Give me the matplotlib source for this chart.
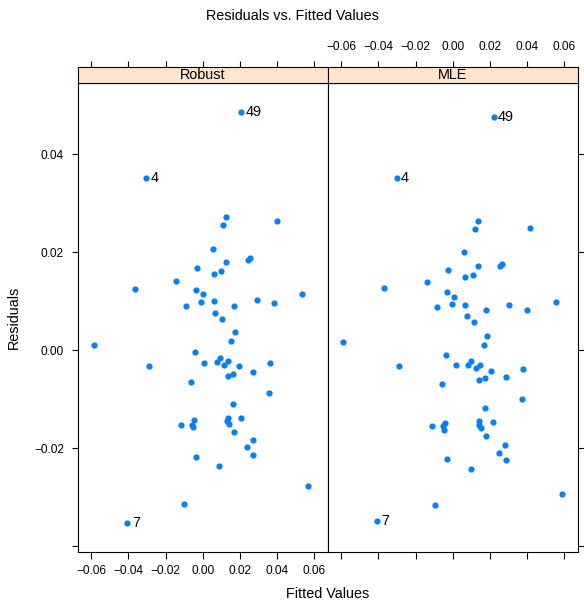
import matplotlib
matplotlib.use("Agg")
import matplotlib.pyplot as plt
import numpy as np

plt.rcParams['font.family'] = ['Liberation Sans', 'DejaVu Sans']

panels = ["Robust", "MLE"]

robust_x = [0.0207, -0.0304, 0.0125, 0.0111, 0.0398, 0.0054, 0.0127, 0.0246, 0.0253, -0.0032,
            0.0061, 0.0100, -0.0141, -0.0364, -0.0036, 0.0000, 0.0536, -0.0011, 0.0061, 0.0291,
            0.0386, -0.0091, 0.0166, 0.0068, 0.0104, 0.0175, 0.0155, -0.0586, -0.0039, -0.0291,
            0.0009, 0.0075, 0.0091, 0.0136, 0.0116, 0.0193, 0.0363, 0.0134, 0.0164, 0.0273,
            -0.0061, 0.0359, 0.0161, 0.0134, 0.0204, 0.0132, 0.0143, -0.0116, -0.0045, -0.0059,
            -0.0050, 0.0166, 0.0270, 0.0239, -0.0036, 0.0273, 0.0089, 0.0568, -0.0102, -0.0405]
robust_y = [0.0486, 0.0352, 0.0272, 0.0255, 0.0263, 0.0207, 0.0181, 0.0184, 0.0188, 0.0168,
            0.0156, 0.0161, 0.0142, 0.0125, 0.0124, 0.0114, 0.0114, 0.0099, 0.0100, 0.0103,
            0.0096, 0.0091, 0.0091, 0.0076, 0.0064, 0.0038, 0.0019, 0.0011, -0.0004, -0.0032,
            -0.0025, -0.0023, -0.0015, -0.0021, -0.0029, -0.0032, -0.0026, -0.0052, -0.0048, -0.0045,
            -0.0064, -0.0087, -0.0109, -0.0137, -0.0137, -0.0144, -0.0150, -0.0152, -0.0143, -0.0152,
            -0.0157, -0.0166, -0.0182, -0.0198, -0.0217, -0.0213, -0.0235, -0.0276, -0.0313, -0.0352]

mle_x = [0.0220, -0.0302, 0.0136, 0.0118, 0.0414, 0.0063, 0.0138, 0.0256, 0.0263, -0.0027,
         0.0068, 0.0109, -0.0138, -0.0367, -0.0031, 0.0007, 0.0555, -0.0004, 0.0068, 0.0304,
         0.0399, -0.0086, 0.0177, 0.0077, 0.0113, 0.0186, 0.0166, -0.0591, -0.0036, -0.0290,
         0.0016, 0.0084, 0.0100, 0.0145, 0.0127, 0.0204, 0.0378, 0.0141, 0.0176, 0.0289,
         -0.0055, 0.0374, 0.0172, 0.0143, 0.0216, 0.0141, 0.0152, -0.0113, -0.0039, -0.0054,
         -0.0047, 0.0177, 0.0283, 0.0251, -0.0028, 0.0286, 0.0097, 0.0589, -0.0097, -0.0408]
mle_y = [0.0476, 0.0352, 0.0264, 0.0248, 0.0250, 0.0201, 0.0173, 0.0173, 0.0177, 0.0164,
         0.0149, 0.0154, 0.0139, 0.0127, 0.0119, 0.0109, 0.0098, 0.0095, 0.0093, 0.0093,
         0.0082, 0.0088, 0.0083, 0.0070, 0.0058, 0.0030, 0.0011, 0.0017, -0.0009, -0.0031,
         -0.0030, -0.0030, -0.0022, -0.0029, -0.0036, -0.0042, -0.0039, -0.0060, -0.0057, -0.0055,
         -0.0068, -0.0099, -0.0118, -0.0145, -0.0147, -0.0152, -0.0158, -0.0155, -0.0148, -0.0155,
         -0.0162, -0.0175, -0.0193, -0.0209, -0.0221, -0.0223, -0.0243, -0.0292, -0.0316, -0.0349]

# labelled outliers: index in arrays -> label
outlier_idx = [0, 1, 59]
outlier_labels = ["49", "4", "7"]

xticks = [-0.06, -0.04, -0.02, 0.00, 0.02, 0.04, 0.06]
yticks = [-0.04, -0.02, 0.00, 0.02, 0.04]

def fmt(v):
    s = "%.2f" % v
    return s.replace("-", "\u2212")

xticklabels = [fmt(v) for v in xticks]
yticklabels = [""] + [fmt(v) for v in yticks[1:]]

data = [(robust_x, robust_y), (mle_x, mle_y)]
allx = np.array(robust_x + mle_x)
ally = np.array(robust_y + mle_y)
xr = allx.max() - allx.min()
yr = ally.max() - ally.min()
xlim = (allx.min() - 0.07 * xr, allx.max() + 0.07 * xr)
ylim = (ally.min() - 0.07 * yr, ally.max() + 0.07 * yr)

W, H = 584, 601
fig = plt.figure(figsize=(W / 100, H / 100), dpi=100)

x0, xm, x1 = 77.5, 327.5, 577.5
yb, yt, ys = 551.7, 83.3, 66.7

blue = "#0080ff"
strip_col = "#ffe5cc"
tick_fs = 8.6
fs = 10.4
tlen = 6.5 / 100 * 72
tpad = 5

for i, (name, (xs, ys_)) in enumerate(zip(panels, data)):
    left = x0 if i == 0 else xm
    ax = fig.add_axes([left / W, 1 - yb / H, (xm - x0) / W, (yb - yt) / H])
    sax = fig.add_axes([left / W, 1 - yt / H, (xm - x0) / W, (yt - ys) / H])

    ax.scatter(xs, ys_, s=20, color=blue, linewidths=0, zorder=3)
    for k, lab in zip(outlier_idx, outlier_labels):
        ax.annotate(lab, (xs[k], ys_[k]), xytext=(3.2, 0), textcoords="offset points",
                    ha="left", va="center", fontsize=fs, color="black")
    ax.set_xlim(xlim)
    ax.set_ylim(ylim)
    ax.set_xticks(xticks)
    ax.set_yticks(yticks)
    ax.tick_params(direction="out", length=tlen, width=0.8, pad=tpad, labelsize=tick_fs)
    if i == 0:
        ax.xaxis.set_ticks_position("bottom")
        ax.set_xticklabels(xticklabels)
        ax.yaxis.set_ticks_position("left")
        ax.set_yticklabels(yticklabels)
    else:
        ax.xaxis.set_ticks_position("bottom")
        ax.set_xticklabels([""] * len(xticks))
        ax.yaxis.set_ticks_position("right")
        ax.set_yticklabels([""] * len(yticks))
    for sp in ax.spines.values():
        sp.set_linewidth(0.8)
        sp.set_color("black")

    sax.set_facecolor(strip_col)
    sax.set_xlim(xlim)
    sax.set_ylim(0, 1)
    sax.set_yticks([])
    sax.set_xticks(xticks)
    sax.xaxis.set_ticks_position("top")
    sax.tick_params(direction="out", length=tlen, width=0.8, pad=tpad, labelsize=tick_fs)
    if i == 1:
        sax.xaxis.set_label_position("top")
        sax.set_xticklabels(xticklabels)
        sax.tick_params(labeltop=True)
    else:
        sax.set_xticklabels([""] * len(xticks))
    for sp in sax.spines.values():
        sp.set_linewidth(0.8)
        sp.set_color("black")
    sax.text(0.5, 0.5, name, transform=sax.transAxes, ha="center", va="center",
             fontsize=fs, color="black")

fig.text(292 / W, 1 - 16 / H, "Residuals vs. Fitted Values", ha="center", va="center",
         fontsize=fs)
fig.text(327.5 / W, 1 - 594 / H, "Fitted Values", ha="center", va="center", fontsize=fs)
fig.text(14 / W, 1 - 317 / H, "Residuals", ha="center", va="center", rotation=90,
         fontsize=fs)

fig.savefig("out.png", dpi=100)
